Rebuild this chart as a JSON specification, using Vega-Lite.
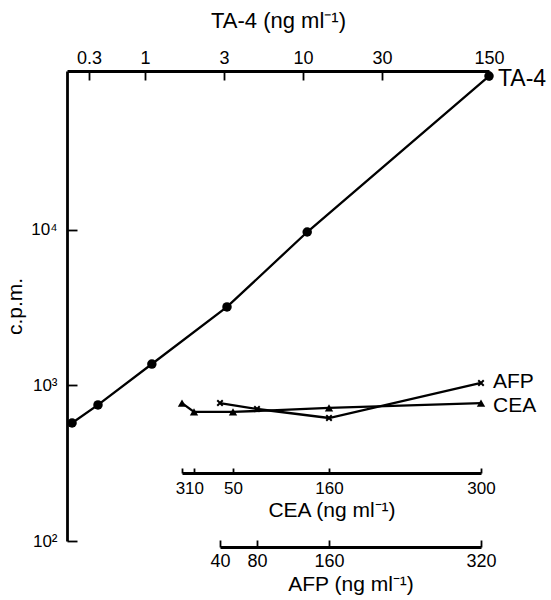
{
  "$schema": "https://vega.github.io/schema/vega-lite/v6.json",
  "width": 422,
  "height": 470,
  "autosize": {"type": "none"},
  "padding": {"left": 67, "top": 71, "right": 62, "bottom": 59},
  "background": "white",
  "config": {
    "view": {"stroke": null},
    "font": "Liberation Sans",
    "axis": {
      "grid": false,
      "domainColor": "black",
      "domainWidth": 2.8,
      "tickColor": "black",
      "tickWidth": 1.8,
      "labelColor": "black",
      "titleColor": "black",
      "labelFont": "Liberation Sans",
      "titleFont": "Liberation Sans",
      "titleFontWeight": "normal",
      "labelFlush": false,
      "labelOverlap": false
    }
  },
  "datasets": {
    "assays": [
      {"assay": "TA-4", "conc": 0.211, "cpm": 574},
      {"assay": "TA-4", "conc": 0.364, "cpm": 750},
      {"assay": "TA-4", "conc": 1.10, "cpm": 1374},
      {"assay": "TA-4", "conc": 3.14, "cpm": 3199},
      {"assay": "TA-4", "conc": 10.6, "cpm": 9706},
      {"assay": "TA-4", "conc": 150, "cpm": 97700, "label": "TA-4"},
      {"assay": "CEA", "conc": 3, "cpm": 771},
      {"assay": "CEA", "conc": 10, "cpm": 676},
      {"assay": "CEA", "conc": 50, "cpm": 676},
      {"assay": "CEA", "conc": 160, "cpm": 717},
      {"assay": "CEA", "conc": 300, "cpm": 771, "label": "CEA"},
      {"assay": "AFP", "conc": 40, "cpm": 771},
      {"assay": "AFP", "conc": 80, "cpm": 706},
      {"assay": "AFP", "conc": 160, "cpm": 618},
      {"assay": "AFP", "conc": 320, "cpm": 1038, "label": "AFP"}
    ]
  },
  "data": {"name": "assays"},
  "resolve": {"scale": {"x": "independent"}, "axis": {"x": "independent"}},
  "encoding": {
    "y": {
      "field": "cpm",
      "type": "quantitative",
      "scale": {"type": "log", "domain": [100, 105300], "nice": false},
      "axis": {
        "values": [100, 1000, 10000],
        "labelExpr": "datum.value < 500 ? '10²' : datum.value < 5000 ? '10³' : '10⁴'",
        "title": "c.p.m.",
        "tickSize": -10,
        "labelPadding": 20,
        "labelFontSize": 17,
        "titleFontSize": 21,
        "titlePadding": 5
      }
    }
  },
  "layer": [
    {
      "transform": [{"filter": "datum.assay == 'TA-4'"}],
      "encoding": {
        "x": {
          "field": "conc",
          "type": "quantitative",
          "scale": {"type": "log", "domain": [0.19, 0.3, 1, 3, 10, 30, 150], "range": [0, 22, 78, 157, 236, 315, 422], "nice": false},
          "axis": {
            "orient": "top",
            "title": "TA-4 (ng ml⁻¹)",
            "values": [0.3, 1, 3, 10, 30, 150],
            "labelExpr": "format(datum.value, '~g')",
            "tickSize": -9,
            "labelPadding": 13,
            "labelFontSize": 18,
            "titleFontSize": 22,
            "titlePadding": 17
          }
        }
      },
      "layer": [
        {"mark": {"type": "line", "color": "black", "strokeWidth": 2.3}},
        {"mark": {"type": "point", "shape": "circle", "filled": true, "opacity": 1, "color": "black", "size": 90}},
        {
          "transform": [{"filter": "isValid(datum.label)"}],
          "mark": {"type": "text", "align": "left", "baseline": "middle", "dx": 9, "dy": 3, "fontSize": 23, "color": "black"},
          "encoding": {"text": {"field": "label"}}
        }
      ]
    },
    {
      "transform": [{"filter": "datum.assay == 'CEA'"}],
      "encoding": {
        "x": {
          "field": "conc",
          "type": "quantitative",
          "scale": {"type": "linear", "domain": [3, 10, 50, 160, 300], "range": [115, 127, 166, 262, 414], "nice": false, "zero": false},
          "axis": {
            "orient": "bottom",
            "offset": -68,
            "title": "CEA (ng ml⁻¹)",
            "values": [3, 10, 50, 160, 300],
            "tickSize": -5,
            "labelPadding": 12,
            "labelFontSize": 17,
            "labelOffset": {"condition": {"test": "datum.value == 3", "value": -2}, "value": 0},
            "titleFontSize": 21,
            "titlePadding": 3
          }
        }
      },
      "layer": [
        {"mark": {"type": "line", "color": "black", "strokeWidth": 2.3}},
        {"mark": {"type": "point", "shape": "triangle-up", "filled": true, "opacity": 1, "color": "black", "size": 70}},
        {
          "transform": [{"filter": "isValid(datum.label)"}],
          "mark": {"type": "text", "align": "left", "baseline": "middle", "dx": 12, "dy": 3, "fontSize": 21, "color": "black"},
          "encoding": {"text": {"field": "label"}}
        }
      ]
    },
    {
      "transform": [{"filter": "datum.assay == 'AFP'"}],
      "encoding": {
        "x": {
          "field": "conc",
          "type": "quantitative",
          "scale": {"type": "linear", "domain": [40, 80, 160, 320], "range": [153, 190, 262, 414], "nice": false, "zero": false},
          "axis": {
            "orient": "bottom",
            "offset": 6,
            "title": "AFP (ng ml⁻¹)",
            "values": [40, 80, 160, 320],
            "tickSize": -7,
            "labelPadding": 12,
            "labelFontSize": 18,
            "titleFontSize": 21,
            "titlePadding": 3
          }
        }
      },
      "layer": [
        {"mark": {"type": "line", "color": "black", "strokeWidth": 2.3}},
        {"mark": {"type": "point", "shape": "M-1,-1L1,1M-1,1L1,-1", "filled": false, "opacity": 1, "color": "black", "strokeWidth": 2, "size": 30}},
        {
          "transform": [{"filter": "isValid(datum.label)"}],
          "mark": {"type": "text", "align": "left", "baseline": "middle", "dx": 12, "dy": -1, "fontSize": 21, "color": "black"},
          "encoding": {"text": {"field": "label"}}
        }
      ]
    }
  ]
}
